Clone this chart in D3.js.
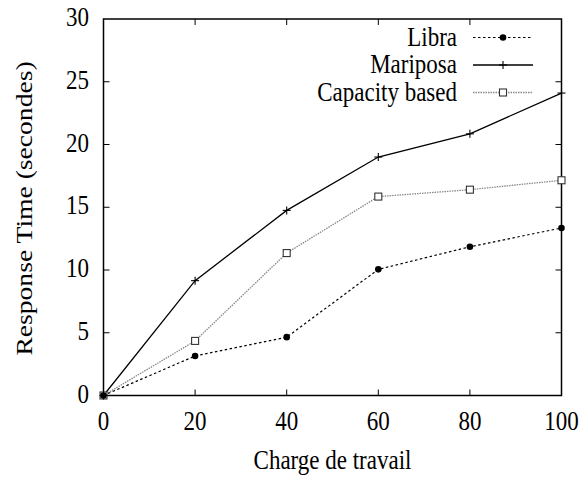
<!DOCTYPE html>
<html><head><meta charset="utf-8">
<script src="https://cdn.jsdelivr.net/npm/d3@7"></script>
<style>body{margin:0;background:#fff}</style>
</head><body>
<script>
const xValues = [0, 20, 40, 60, 80, 100];
const libra = [0, 3.15, 4.65, 10.05, 11.85, 13.35];
const mariposa = [0, 9.15, 14.75, 19.0, 20.85, 24.1];
const capacity = [0, 4.35, 11.35, 15.85, 16.4, 17.15];
const xTicks = [0, 20, 40, 60, 80, 100];
const yTicks = [0, 5, 10, 15, 20, 25, 30];
const seriesNames = ["Libra", "Mariposa", "Capacity based"];

const W = 582, H = 479;
const FONT = "'Liberation Serif','Times New Roman',serif";
const FS = 23, SY = 1.17;
const svg = d3.select("body").append("svg").attr("width", W).attr("height", H);

const x = d3.scaleLinear().domain([0, 100]).range([103.5, 561.5]);
const y = d3.scaleLinear().domain([0, 30]).range([395.5, 19]);

function txt(g, s, tx, ty, anchor, rot) {
  const sc = rot ? `scale(1.2,1)` : `scale(1,${SY})`;
  const t = g.append("g").attr("transform", `translate(${tx},${ty})` + (rot ? ` rotate(${rot})` : "") + ` ${sc}`);
  t.append("text").attr("text-anchor", anchor).attr("font-family", FONT).attr("font-size", FS).attr("fill", "#000").text(s);
}

const TL = 6;
const axes = svg.append("g");
xTicks.forEach(v => {
  if (v === 0 || v === 100) return;
  axes.append("line").attr("x1", x(v)).attr("x2", x(v)).attr("y1", y(0)).attr("y2", y(0) - TL).attr("stroke", "#000").attr("stroke-width", 1);
  axes.append("line").attr("x1", x(v)).attr("x2", x(v)).attr("y1", y(30)).attr("y2", y(30) + TL).attr("stroke", "#000").attr("stroke-width", 1);
});
yTicks.forEach(v => {
  if (v === 0 || v === 30) return;
  axes.append("line").attr("x1", x(0)).attr("x2", x(0) + TL).attr("y1", y(v)).attr("y2", y(v)).attr("stroke", "#000").attr("stroke-width", 1);
  axes.append("line").attr("x1", x(100)).attr("x2", x(100) - TL).attr("y1", y(v)).attr("y2", y(v)).attr("stroke", "#000").attr("stroke-width", 1);
});
axes.append("rect").attr("x", x(0)).attr("y", y(30)).attr("width", x(100) - x(0)).attr("height", y(0) - y(30))
  .attr("fill", "none").attr("stroke", "#000").attr("stroke-width", 1.5);

xTicks.forEach(v => txt(svg, String(v), x(v), 430, "middle"));
yTicks.forEach(v => txt(svg, String(v), 89, y(v) + 7, "end"));
txt(svg, "Charge de travail", (x(0) + x(100)) / 2, 469, "middle");
txt(svg, "Response Time (secondes)", 32, 208.5, "middle", -90);

const styles = [
  {name: seriesNames[0], data: libra, stroke: "#000", dash: "2.5,2.5", width: 1.2, marker: "circle"},
  {name: seriesNames[1], data: mariposa, stroke: "#000", dash: null, width: 1.3, marker: "plus"},
  {name: seriesNames[2], data: capacity, stroke: "#888", dash: "1.5,1", width: 1.3, marker: "square"}
];

const line = d3.line().x(d => x(d[0])).y(d => y(d[1]));

function marker(g, type, cx, cy) {
  if (type === "circle") g.append("circle").attr("cx", cx).attr("cy", cy).attr("r", 3.3).attr("fill", "#000");
  else if (type === "plus") {
    g.append("line").attr("x1", cx - 4).attr("x2", cx + 4).attr("y1", cy).attr("y2", cy).attr("stroke", "#000").attr("stroke-width", 1.1);
    g.append("line").attr("x1", cx).attr("x2", cx).attr("y1", cy - 4).attr("y2", cy + 4).attr("stroke", "#000").attr("stroke-width", 1.1);
  } else {
    g.append("rect").attr("x", cx - 3.5).attr("y", cy - 3.5).attr("width", 7).attr("height", 7).attr("fill", "#fff").attr("stroke", "#333").attr("stroke-width", 1.1);
  }
}

const plot = svg.append("g");
[2, 0, 1].forEach(i => {
  const s = styles[i];
  const pts = xValues.map((xv, j) => [xv, s.data[j]]);
  plot.append("path").attr("d", line(pts)).attr("fill", "none").attr("stroke", s.stroke)
    .attr("stroke-width", s.width).attr("stroke-dasharray", s.dash);
});
[2, 0, 1].forEach(i => {
  const s = styles[i];
  xValues.forEach((xv, j) => marker(plot, s.marker, x(xv), y(s.data[j])));
});

const legY = [37.5, 65, 92.5];
const leg = svg.append("g");
styles.forEach((s, i) => {
  txt(leg, s.name, 457, legY[i] + 8, "end");
  leg.append("line").attr("x1", 473).attr("x2", 533).attr("y1", legY[i]).attr("y2", legY[i])
    .attr("stroke", s.stroke).attr("stroke-width", s.width).attr("stroke-dasharray", s.dash);
  marker(leg, s.marker, 503, legY[i]);
});
</script>
</body></html>
